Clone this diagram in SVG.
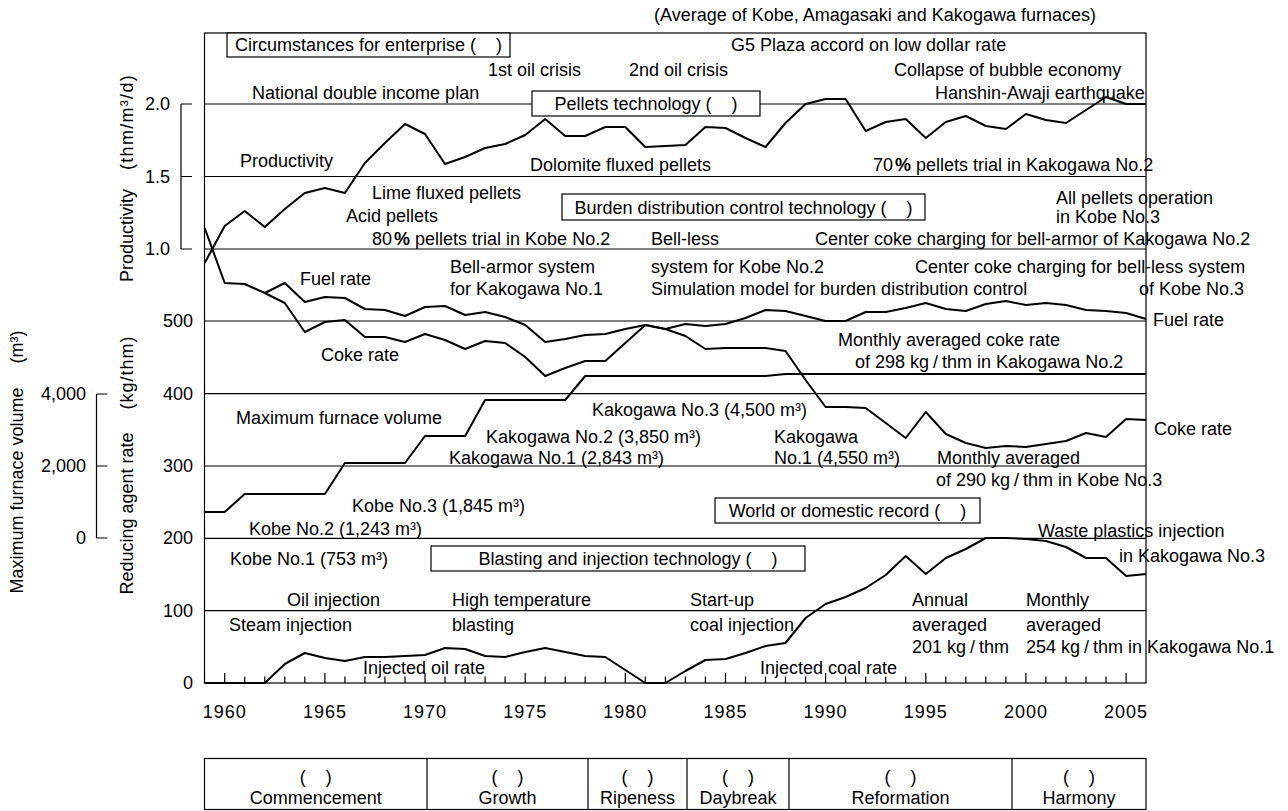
<svg xmlns="http://www.w3.org/2000/svg" width="1288" height="811" viewBox="0 0 1288 811">
<style>
.t{font-family:"Liberation Sans",Arial,sans-serif;font-size:18px;fill:#000}
.p{white-space:pre}
.m{text-anchor:middle}
.e{text-anchor:end}
.yr{font-family:"Liberation Sans",Arial,sans-serif;font-size:18px;fill:#000;text-anchor:middle;letter-spacing:1px}
.g{stroke:#000;stroke-width:1.2;fill:none}
.d{stroke:#000;stroke-width:2;fill:none;stroke-linejoin:round}
.box{fill:#fff;stroke:#000;stroke-width:1.2}
.b{font-weight:bold}
</style>
<rect width="1288" height="811" fill="#fff"/>
<g id="axes">
<rect class="g" x="204.5" y="33" width="941.5" height="650"/>
<path class="g" d="M204.5 104H1146M204.5 176.5H1146M204.5 249H1146M204.5 321H1146M204.5 393.7H1146M204.5 466H1146M204.5 538.3H1146M204.5 610.7H1146"/>
<path class="g" d="M181 104V249M181 104H192M181 176.5H192M181 249H192"/>
<path class="g" d="M96.5 394V538M96.5 394H107.5M96.5 466H107.5M96.5 538H107.5"/>
<path class="g" d="M224.7 683v-10M244.7 683v-6.5M264.8 683v-6.5M284.8 683v-6.5M304.8 683v-6.5M324.9 683v-10M344.9 683v-6.5M364.9 683v-6.5M384.9 683v-6.5M405 683v-6.5M425 683v-10M445 683v-6.5M465.1 683v-6.5M485.1 683v-6.5M505.1 683v-6.5M525.2 683v-10M545.2 683v-6.5M565.2 683v-6.5M585.2 683v-6.5M605.3 683v-6.5M625.3 683v-10M645.3 683v-6.5M665.4 683v-6.5M685.4 683v-6.5M705.4 683v-6.5M725.5 683v-10M745.5 683v-6.5M765.5 683v-6.5M785.5 683v-6.5M805.6 683v-6.5M825.6 683v-10M845.6 683v-6.5M865.7 683v-6.5M885.7 683v-6.5M905.7 683v-6.5M925.8 683v-10M945.8 683v-6.5M965.8 683v-6.5M985.8 683v-6.5M1005.9 683v-6.5M1025.9 683v-10M1045.9 683v-6.5M1066 683v-6.5M1086 683v-6.5M1106 683v-6.5M1126.1 683v-10"/>
<text class="t e" x="170" y="110">2.0</text>
<text class="t e" x="170" y="183">1.5</text>
<text class="t e" x="170" y="255">1.0</text>
<text class="t e" x="193" y="327">500</text>
<text class="t e" x="193" y="400">400</text>
<text class="t e" x="193" y="472">300</text>
<text class="t e" x="193" y="544">200</text>
<text class="t e" x="193" y="617">100</text>
<text class="t e" x="193" y="689">0</text>
<text class="t e" x="86" y="400">4,000</text>
<text class="t e" x="86" y="472">2,000</text>
<text class="t e" x="86" y="544">0</text>
<text class="t m" transform="translate(133,178) rotate(-90)">Productivity<tspan dx="19" letter-spacing="1.3">(thm/m³/d)</tspan></text>
<text class="t m" transform="translate(133,465) rotate(-90)">Reducing agent rate<tspan dx="23" letter-spacing="1">(kg/thm)</tspan></text>
<text class="t m" transform="translate(23,462) rotate(-90)">Maximum furnace volume<tspan dx="24">(m³)</tspan></text>
<text class="yr" x="224.7" y="718">1960</text>
<text class="yr" x="324.9" y="718">1965</text>
<text class="yr" x="425" y="718">1970</text>
<text class="yr" x="525.2" y="718">1975</text>
<text class="yr" x="625.3" y="718">1980</text>
<text class="yr" x="725.5" y="718">1985</text>
<text class="yr" x="825.6" y="718">1990</text>
<text class="yr" x="925.8" y="718">1995</text>
<text class="yr" x="1025.9" y="718">2000</text>
<text class="yr" x="1126.1" y="718">2005</text>
</g>
<g id="series">
<polyline id="productivity" class="d" points="204.7,263 224.7,226 244.7,211 264.8,227 284.8,209 304.8,193 324.9,188 344.9,193 364.9,163 384.9,143 405,124 425,134 445,164 465.1,157 485.1,148 505.1,144 525.2,135 545.2,119 565.2,136 585.2,136 605.3,127 625.3,127 645.3,147 665.4,146 685.4,145 705.4,127 725.5,128 745.5,138 765.5,147 785.5,123 805.6,104 825.6,99 845.6,99 865.7,131 885.7,122 905.7,119 925.8,138 945.8,122 965.8,116 985.8,126 1005.9,129 1025.9,114 1045.9,120 1066,123 1086,110 1106,97 1126.1,104 1146.1,104"/>
<polyline id="fuel-rate" class="d" points="204.7,228 224.7,283 244.7,284 264.8,293 284.8,283 304.8,302 324.9,297 344.9,298 364.9,309 384.9,310 405,316 425,307 445,306 465.1,315 485.1,312 505.1,317 525.2,325 545.2,342 565.2,339 585.2,335 605.3,334 625.3,329 645.3,325 665.4,329 685.4,324 705.4,326 725.5,324 745.5,318 765.5,310 785.5,311 805.6,316 825.6,321 845.6,321 865.7,312 885.7,312 905.7,308 925.8,303 945.8,309 965.8,311 985.8,304 1005.9,301 1025.9,305 1045.9,303 1066,305 1086,310 1106,311 1126.1,313 1146.1,319"/>
<polyline id="coke-rate" class="d" points="264.8,293 284.8,303 304.8,332 324.9,322 344.9,320 364.9,337 384.9,337 405,342 425,334 445,340 465.1,349 485.1,341 505.1,343 525.2,357 545.2,376 565.2,368 585.2,361 605.3,361 625.3,343 645.3,325 665.4,329 685.4,336 705.4,349 725.5,348 745.5,348 765.5,348 785.5,351 805.6,380 825.6,407 845.6,407 865.7,408 885.7,423 905.7,438 925.8,412 945.8,434 965.8,443 985.8,448 1005.9,446 1025.9,447 1045.9,444 1066,441 1086,433 1106,437 1126.1,419 1146.1,420"/>
<polyline id="furnace-volume" class="d" points="204.7,512 224.7,512 244.7,494 324.9,494 344.9,463 405,463 425,436 465.1,436 485.1,400 565.2,400 585.2,376 765.5,376 785.5,374 1146.1,374"/>
<polyline id="oil-rate" class="d" points="204.7,683 264.8,683 284.8,664 304.8,653 324.9,658 344.9,661 364.9,657 384.9,657 405,656 425,655 445,648 465.1,649 485.1,656 505.1,657 525.2,652 545.2,648 565.2,652 585.2,656 605.3,657 625.3,670 645.3,683 665.4,683"/>
<polyline id="coal-rate" class="d" points="665.4,683 685.4,671 705.4,660 725.5,659 745.5,653 765.5,646 785.5,643 805.6,618 825.6,604 845.6,597 865.7,588 885.7,575 905.7,556 925.8,574 945.8,558 965.8,549 985.8,538 1005.9,538 1025.9,539 1045.9,541 1066,547 1086,558 1106,558 1126.1,576 1146.1,574"/>
</g>
<g id="box-circumstances">
<rect class="box" x="227" y="33" width="283" height="24"/>
<text class="t m p" xml:space="preserve" x="368.5" y="51">Circumstances for enterprise (    )</text>
</g>
<g id="box-pellets">
<rect class="box" x="532" y="91" width="228" height="25"/>
<text class="t m p" xml:space="preserve" x="646" y="110">Pellets technology (    )</text>
</g>
<g id="box-burden">
<rect class="box" x="562" y="194" width="363" height="26"/>
<text class="t m p" xml:space="preserve" x="743.5" y="214">Burden distribution control technology (    )</text>
</g>
<g id="box-record">
<rect class="box" x="715" y="498" width="265" height="25"/>
<text class="t m p" xml:space="preserve" x="847.5" y="517">World or domestic record (    )</text>
</g>
<g id="box-blasting">
<rect class="box" x="431" y="546" width="374" height="25"/>
<text class="t m p" xml:space="preserve" x="628" y="565">Blasting and injection technology (    )</text>
</g>
<g id="labels">
<text class="t" x="654" y="21">(Average of Kobe, Amagasaki and Kakogawa furnaces)</text>
<text class="t" x="731" y="51">G5 Plaza accord on low dollar rate</text>
<text class="t" x="488" y="76">1st oil crisis</text>
<text class="t" x="629" y="76">2nd oil crisis</text>
<text class="t" x="894" y="76">Collapse of bubble economy</text>
<text class="t" x="252" y="99">National double income plan</text>
<text class="t" x="935" y="99">Hanshin-Awaji earthquake</text>
<text class="t" x="240" y="167">Productivity</text>
<text class="t" x="530" y="171">Dolomite fluxed pellets</text>
<text class="t" x="873" y="171">70<tspan class="b" dx="2">%</tspan> pellets trial in Kakogawa No.2</text>
<text class="t" x="372" y="199">Lime fluxed pellets</text>
<text class="t" x="1056" y="204">All pellets operation</text>
<text class="t" x="1056" y="223">in Kobe No.3</text>
<text class="t" x="346" y="222">Acid pellets</text>
<text class="t" x="372" y="245">80<tspan class="b" dx="2">%</tspan> pellets trial in Kobe No.2</text>
<text class="t" x="651" y="245">Bell-less</text>
<text class="t" x="815" y="245">Center coke charging for bell-armor of Kakogawa No.2</text>
<text class="t" x="450" y="273">Bell-armor system</text>
<text class="t" x="651" y="273">system for Kobe No.2</text>
<text class="t" x="915" y="273">Center coke charging for bell-less system</text>
<text class="t" x="300" y="285">Fuel rate</text>
<text class="t" x="450" y="295">for Kakogawa No.1</text>
<text class="t" x="651" y="295">Simulation model for burden distribution control</text>
<text class="t" x="1139" y="295">of Kobe No.3</text>
<text class="t" x="1153" y="326">Fuel rate</text>
<text class="t" x="838" y="346">Monthly averaged coke rate</text>
<text class="t" x="321" y="361">Coke rate</text>
<text class="t" x="855" y="368">of 298 kg<tspan dx="4">/</tspan><tspan dx="4">thm</tspan> in Kakogawa No.2</text>
<text class="t" x="592" y="416">Kakogawa No.3 (4,500 m³)</text>
<text class="t" x="236" y="424">Maximum furnace volume</text>
<text class="t" x="1154" y="435">Coke rate</text>
<text class="t" x="486" y="443">Kakogawa No.2 (3,850 m³)</text>
<text class="t" x="774" y="443">Kakogawa</text>
<text class="t" x="449" y="464">Kakogawa No.1 (2,843 m³)</text>
<text class="t" x="774" y="464">No.1 (4,550 m³)</text>
<text class="t" x="937" y="464">Monthly averaged</text>
<text class="t" x="936" y="486">of 290 kg<tspan dx="4">/</tspan><tspan dx="4">thm</tspan> in Kobe No.3</text>
<text class="t" x="352" y="512">Kobe No.3 (1,845 m³)</text>
<text class="t" x="249" y="535">Kobe No.2 (1,243 m³)</text>
<text class="t" x="1038" y="537">Waste plastics injection</text>
<text class="t" x="1119" y="562">in Kakogawa No.3</text>
<text class="t" x="230" y="565">Kobe No.1 (753 m³)</text>
<text class="t" x="287" y="606">Oil injection</text>
<text class="t" x="452" y="606">High temperature</text>
<text class="t" x="690" y="606">Start-up</text>
<text class="t" x="912" y="606">Annual</text>
<text class="t" x="1026" y="606">Monthly</text>
<text class="t" x="229" y="631">Steam injection</text>
<text class="t" x="452" y="631">blasting</text>
<text class="t" x="690" y="631">coal injection</text>
<text class="t" x="912" y="631">averaged</text>
<text class="t" x="1026" y="631">averaged</text>
<text class="t" x="912" y="653">201 kg<tspan dx="4">/</tspan><tspan dx="4">thm</tspan></text>
<text class="t" x="1026" y="653">254 kg<tspan dx="4">/</tspan><tspan dx="4">thm</tspan> in Kakogawa No.1</text>
<text class="t" x="363" y="674">Injected oil rate</text>
<text class="t" x="760" y="674">Injected coal rate</text>
</g>
<g id="period-table">
<rect class="g" x="204.5" y="758.5" width="941.5" height="51"/>
<path class="g" d="M427 758.5V809.5M588 758.5V809.5M687 758.5V809.5M789 758.5V809.5M1012 758.5V809.5"/>
<text class="t m p" xml:space="preserve" x="315.7" y="783">(    )</text>
<text class="t m" x="315.7" y="804">Commencement</text>
<text class="t m p" xml:space="preserve" x="507.5" y="783">(    )</text>
<text class="t m" x="507.5" y="804">Growth</text>
<text class="t m p" xml:space="preserve" x="637.5" y="783">(    )</text>
<text class="t m" x="637.5" y="804">Ripeness</text>
<text class="t m p" xml:space="preserve" x="738" y="783">(    )</text>
<text class="t m" x="738" y="804">Daybreak</text>
<text class="t m p" xml:space="preserve" x="900.5" y="783">(    )</text>
<text class="t m" x="900.5" y="804">Reformation</text>
<text class="t m p" xml:space="preserve" x="1079" y="783">(    )</text>
<text class="t m" x="1079" y="804">Harmony</text>
</g>
</svg>
